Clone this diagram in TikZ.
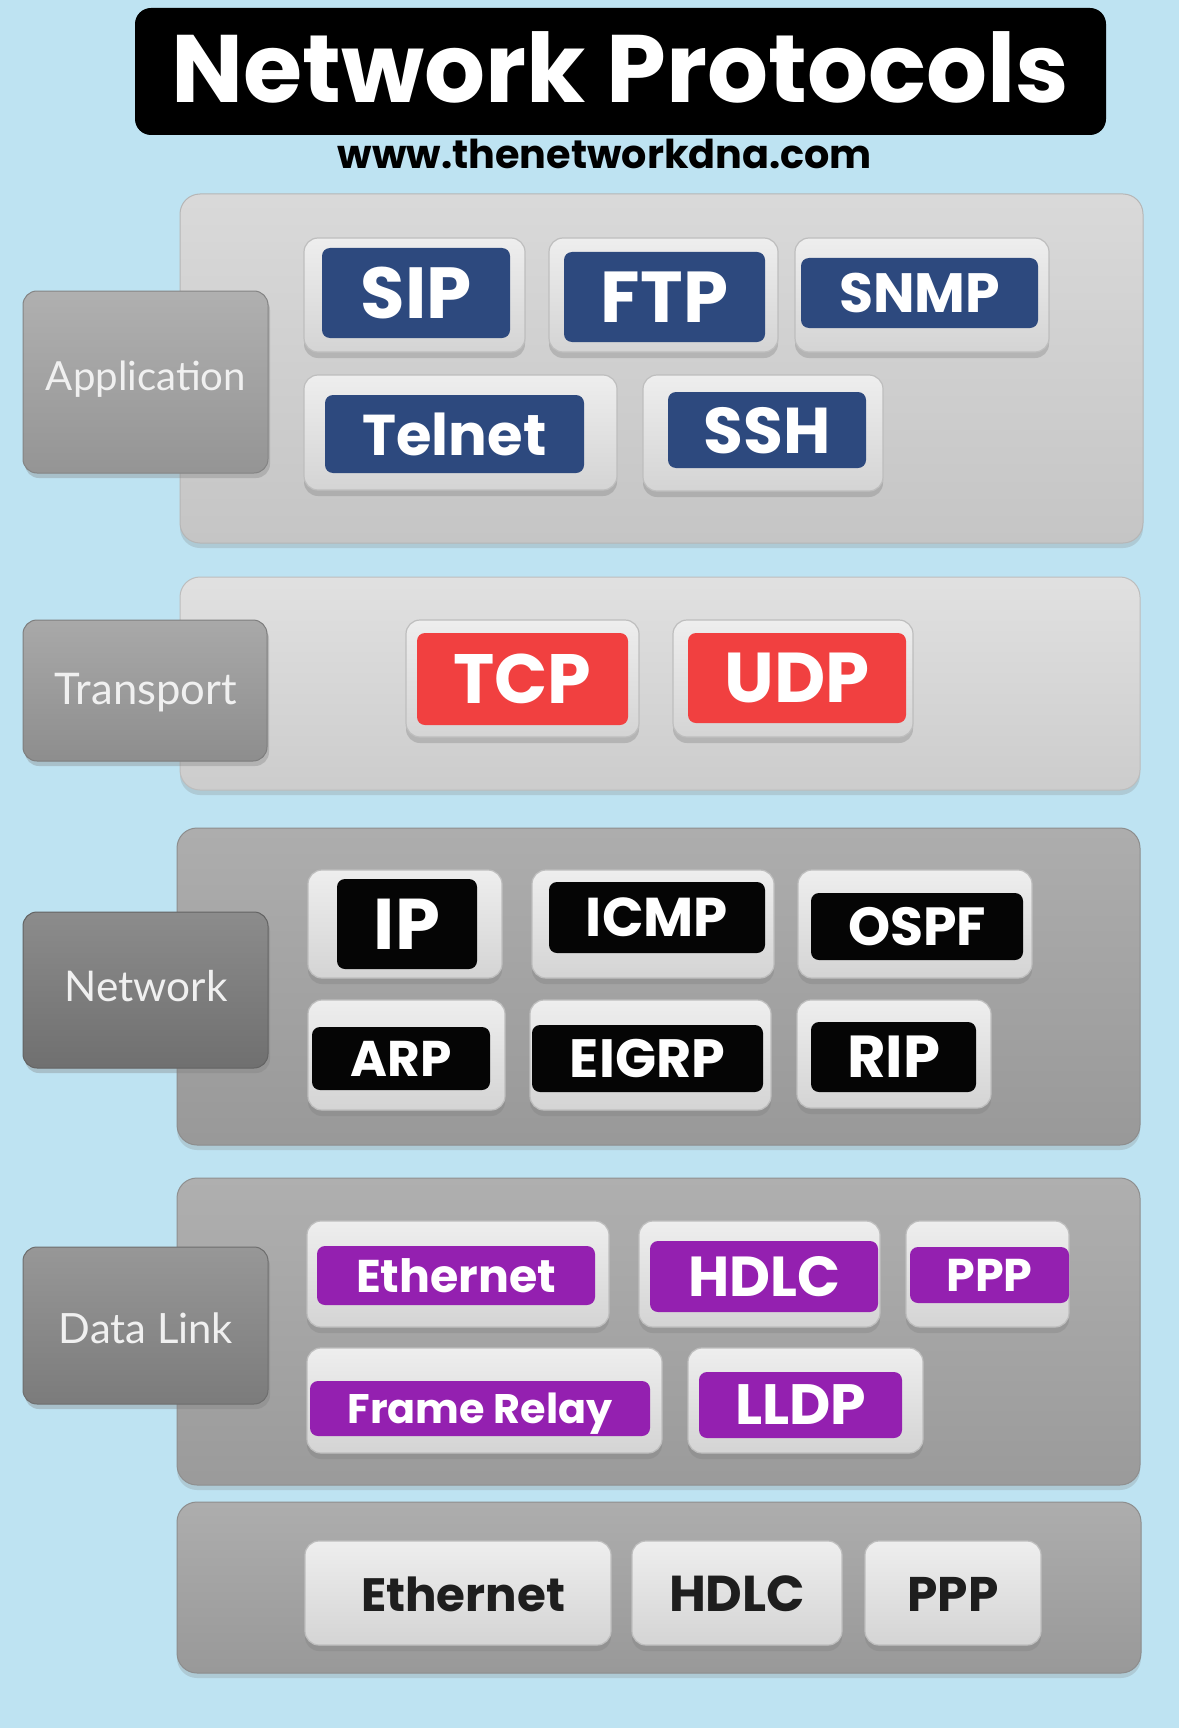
\documentclass[tikz,border=0pt]{standalone}
\usepackage{fontspec}
\usepackage{graphicx}
\setmainfont{Poppins}
\newfontfamily\tabfont{Lato}
\usetikzlibrary{shadows}
\definecolor{bg}{RGB}{190,227,242}
\definecolor{tblue}{RGB}{45,73,126}
\definecolor{tred}{RGB}{241,64,64}
\definecolor{tblack}{RGB}{5,5,5}
\definecolor{tpurple}{RGB}{148,32,176}
\definecolor{keytop}{RGB}{238,238,238}
\definecolor{keybot}{RGB}{212,212,212}
\definecolor{keyedge}{RGB}{190,190,190}
\definecolor{tabtxt}{RGB}{240,240,240}
\definecolor{phystxt}{RGB}{30,30,30}
\definecolor{pApp}{RGB}{214,214,214}
\definecolor{pTr}{RGB}{222,222,222}
\definecolor{pNet}{RGB}{166,166,166}
\definecolor{pDl}{RGB}{168,168,168}
\definecolor{pPh}{RGB}{166,166,166}
\definecolor{tApp}{RGB}{165,165,165}
\definecolor{tTr}{RGB}{157,157,157}
\definecolor{tNet}{RGB}{124,124,124}
\definecolor{tDl}{RGB}{137,137,137}
\newcommand\bx[7]{\pgfmathsetmacro\bw{(#5-#3)*0.5}\pgfmathsetmacro\bh{(#6-#4)*0.5}%
  \node[#1,minimum width=\bw pt,minimum height=\bh pt,inner sep=0pt] (#2) at ({(#3+#5)/2},{(#4+#6)/2}) {#7};}
\newcommand\lbl[2]{\resizebox{#1pt}{!}{\raisebox{0pt}[\height][0pt]{#2}}}
\begin{document}
\begin{tikzpicture}[x=0.5pt,y=-0.5pt,
  panel/.style={rounded corners=10pt, top color=#1!92!white, bottom color=#1!92!black, draw=#1!85!black, line width=0.5pt,
     drop shadow={shadow xshift=0pt,shadow yshift=-2.5pt,opacity=0.25}},
  tab/.style={rounded corners=7pt, top color=#1!88!white, bottom color=#1!90!black, draw=#1!80!black, line width=0.5pt,
     drop shadow={shadow xshift=1pt,shadow yshift=-2.5pt,opacity=0.35}},
  key/.style={rounded corners=7pt, top color=keytop, bottom color=keybot, draw=keyedge, line width=0.6pt,
     drop shadow={shadow xshift=0pt,shadow yshift=-3pt,opacity=0.35}},
  tag/.style={rounded corners=4pt, fill=#1, text=white, font=\bfseries},
  tabtext/.style={text=tabtxt, font=\tabfont, inner sep=0pt},
  phys/.style={text=phystxt, font=\bfseries, inner sep=0pt}]
\fill[bg] (0,0) rectangle (1179,1728);
\useasboundingbox (0,0) rectangle (1179,1728);
% title
\bx{rounded corners=8pt, fill=black}{titlebox}{135}{8}{1106}{135}{}
\node[text=white, font=\bfseries, inner sep=0pt] (title) at (620.5,67) {\lbl{448.5}{Network Protocols}};
\node[text=black, font=\bfseries, inner sep=0pt] (url) at (605,154) {\lbl{267}{www.thenetworkdna.com}};
% Application
\bx{panel=pApp}{apppanel}{180}{194}{1143}{543}{}
\bx{tab=tApp}{apptab}{23}{291}{268}{473}{}
\node[tabtext] (applbl) at (146,376) {\lbl{100}{Application}};
\bx{key}{k-sip}{304}{238}{525}{352}{}
\bx{tag=tblue}{sip}{322}{248}{510}{338}{\lbl{55.5}{SIP}}
\bx{key}{k-ftp}{549}{238}{778}{352}{}
\bx{tag=tblue}{ftp}{564}{252}{765}{342}{\lbl{63.5}{FTP}}
\bx{key}{k-snmp}{795}{238}{1049}{352}{}
\bx{tag=tblue}{snmp}{801}{258}{1038}{328}{\lbl{80.5}{SNMP}}
\bx{key}{k-telnet}{304}{375}{617}{490}{}
\bx{tag=tblue}{telnet}{325}{395}{584}{473}{\lbl{92}{Telnet}}
\bx{key}{k-ssh}{643}{375}{883}{491}{}
\bx{tag=tblue}{ssh}{668}{392}{866}{468}{\lbl{63.5}{SSH}}
% Transport
\bx{panel=pTr}{trpanel}{180}{577}{1140}{790}{}
\bx{tab=tTr}{trtab}{23}{620}{267}{761}{}
\node[tabtext] (trlbl) at (146,689) {\lbl{91}{Transport}};
\bx{key}{k-tcp}{406}{620}{639}{737}{}
\bx{tag=tred}{tcp}{417}{633}{628}{725}{\lbl{69}{TCP}}
\bx{key}{k-udp}{673}{620}{913}{737}{}
\bx{tag=tred}{udp}{688}{633}{906}{723}{\lbl{72.5}{UDP}}
% Network
\bx{panel=pNet}{netpanel}{177}{828}{1140}{1145}{}
\bx{tab=tNet}{nettab}{23}{912}{268}{1068}{}
\node[tabtext] (netlbl) at (146,986) {\lbl{81.5}{Network}};
\bx{key}{k-ip}{308}{870}{502}{978}{}
\bx{tag=tblack}{ip}{337}{879}{477}{969}{\lbl{33}{IP}}
\bx{key}{k-icmp}{532}{870}{774}{978}{}
\bx{tag=tblack}{icmp}{549}{882}{765}{953}{\lbl{71}{ICMP}}
\bx{key}{k-ospf}{798}{870}{1032}{978}{}
\bx{tag=tblack}{ospf}{811}{893}{1023}{960}{\lbl{69}{OSPF}}
\bx{key}{k-arp}{308}{1000}{505}{1110}{}
\bx{tag=tblack}{arp}{312}{1027}{490}{1090}{\lbl{50.5}{ARP}}
\bx{key}{k-eigrp}{530}{1000}{771}{1110}{}
\bx{tag=tblack}{eigrp}{532}{1025}{763}{1092}{\lbl{77.5}{EIGRP}}
\bx{key}{k-rip}{797}{1000}{991}{1108}{}
\bx{tag=tblack}{rip}{811}{1022}{976}{1092}{\lbl{46.5}{RIP}}
% Data Link
\bx{panel=pDl}{dlpanel}{177}{1178}{1140}{1485}{}
\bx{tab=tDl}{dltab}{23}{1247}{268}{1404}{}
\node[tabtext] (dllbl) at (146,1328) {\lbl{87}{Data Link}};
\bx{key}{k-eth}{307}{1221}{609}{1327}{}
\bx{tag=tpurple}{eth}{317}{1246}{595}{1305}{\lbl{100}{Ethernet}}
\bx{key}{k-hdlc}{639}{1221}{880}{1327}{}
\bx{tag=tpurple}{hdlc}{650}{1241}{878}{1312}{\lbl{76}{HDLC}}
\bx{key}{k-ppp}{906}{1221}{1069}{1327}{}
\bx{tag=tpurple}{ppp}{910}{1247}{1069}{1303}{\lbl{43}{PPP}}
\bx{key}{k-fr}{307}{1348}{662}{1453}{}
\bx{tag=tpurple}{fr}{310}{1381}{650}{1436}{\lbl{132.5}{Frame Relay}}
\bx{key}{k-lldp}{688}{1348}{923}{1453}{}
\bx{tag=tpurple}{lldp}{699}{1372}{902}{1438}{\lbl{65.5}{LLDP}}
% Physical
\bx{panel=pPh}{phpanel}{177}{1502}{1141}{1673}{}
\bx{key}{k-peth}{305}{1541}{611}{1645}{}
\node[phys] (peth) at (463,1594) {\lbl{102}{Ethernet}};
\bx{key}{k-phdlc}{632}{1541}{842}{1645}{}
\node[phys] (phdlc) at (737,1594) {\lbl{68}{HDLC}};
\bx{key}{k-pppp}{865}{1541}{1041}{1645}{}
\node[phys] (pppp) at (953,1594) {\lbl{45.5}{PPP}};
\end{tikzpicture}
\end{document}
